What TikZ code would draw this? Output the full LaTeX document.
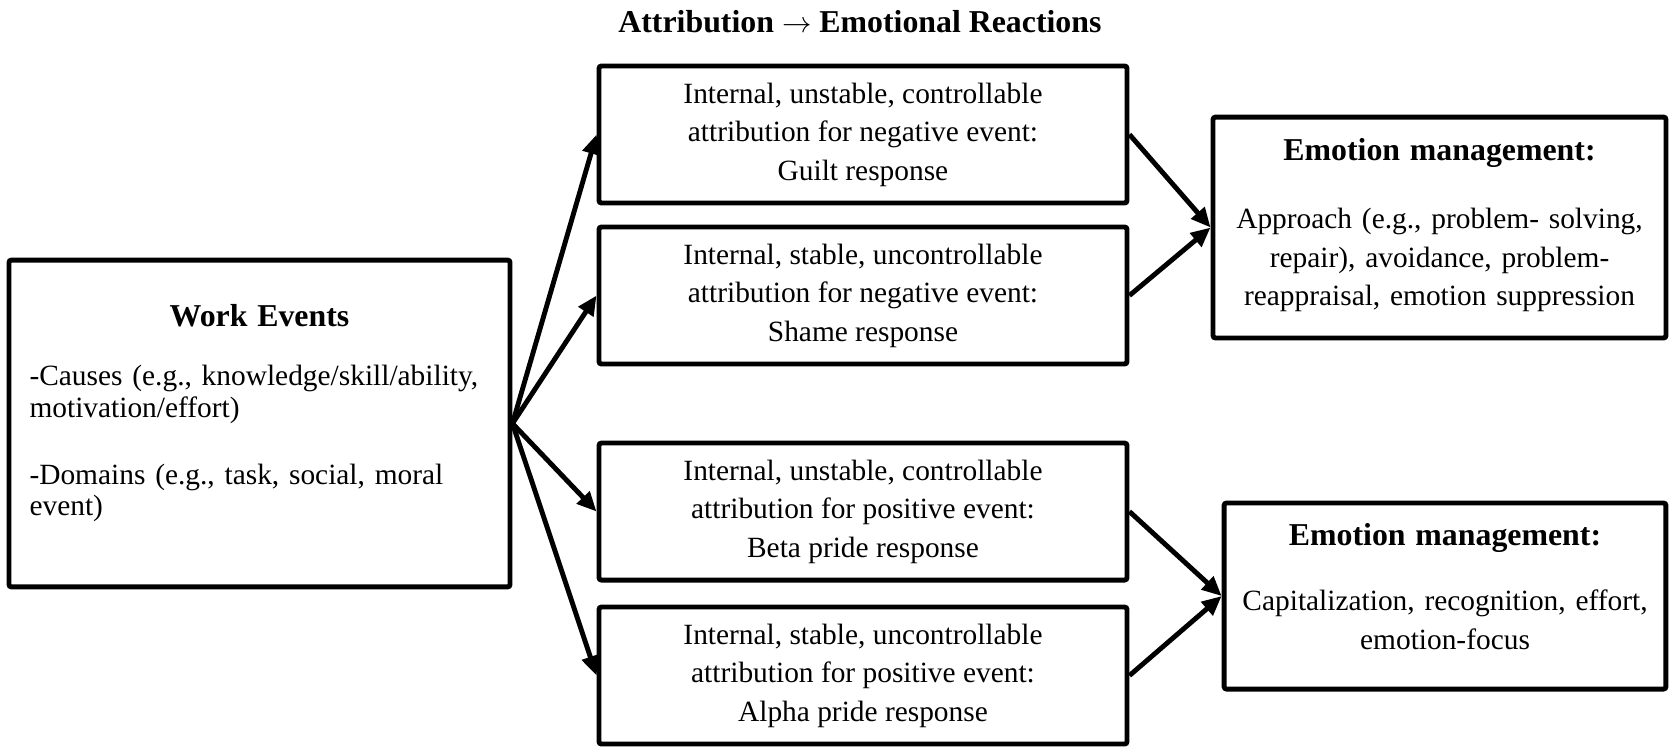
\documentclass[tikz,border=0pt]{standalone}
\usepackage{fontspec}
\setmainfont{Liberation Serif}
\usetikzlibrary{arrows.meta,positioning}
\tikzset{
  attrbox/.style={rectangle, rounded corners=1pt, draw=black, line width=2pt,
    align=center, minimum width=7.577cm, minimum height=1.966cm, font=\fontsize{12}{15.7}\selectfont},
  eventbox/.style={rectangle, rounded corners=1pt, draw=black, line width=2pt,
    align=left, text width=6.6cm, minimum width=7.19cm, minimum height=4.69cm, font=\fontsize{12}{13}\selectfont},
  mgmtbox/.style={rectangle, rounded corners=1pt, draw=black, line width=2pt,
    align=center, text width=6.1cm, font=\fontsize{12}{15.7}\selectfont},
  headfont/.style={font=\fontsize{13}{16}\selectfont\bfseries},
  arrow/.style={-{Triangle[length=8pt,width=7pt]}, line width=2pt, draw=black}
}

\begin{document}
\begin{tikzpicture}
  \useasboundingbox (0,0) rectangle (23.95,-10.79);
  \node[headfont] (title) at (12.34,-0.316) {Attribution $\rightarrow$ Emotional Reactions};
  % work events
  \node[eventbox] (events) at (3.724,-6.077) {%
    {\centering\fontsize{13}{16}\selectfont\bfseries Work Events\par}
    \vspace{11pt}
    -Causes (e.g., knowledge/skill/ability,\\ motivation/effort)\par
    \vspace{14.3pt}
    -Domains (e.g., task, social, moral\\ event)\par
    \vspace{8.3pt}\hrule height 0pt};
  % attributions
  \node[attrbox] (guilt) at (12.384,-1.930) {Internal, unstable, controllable\\ attribution for negative event:\\ Guilt response};
  \node[attrbox, below=0.274cm of guilt] (shame) {Internal, stable, uncontrollable\\ attribution for negative event:\\ Shame response};
  \node[attrbox, below=1.064cm of shame] (beta) {Internal, unstable, controllable\\ attribution for positive event:\\ Beta pride response};
  \node[attrbox, below=0.317cm of beta] (alpha) {Internal, stable, uncontrollable\\ attribution for positive event:\\ Alpha pride response};
  % emotion management
  \node[mgmtbox, minimum width=6.50cm, minimum height=3.17cm] (mgmtneg) at (20.657,-3.265) {%
    {\fontsize{13}{15.7}\selectfont\bfseries Emotion management:\par}
    \vspace{12pt}
    Approach (e.g., problem- solving,\\ repair), avoidance, problem-\\ reappraisal, emotion suppression\par
    \vspace{1.8pt}\hrule height 0pt};
  \node[mgmtbox, minimum width=6.34cm, minimum height=2.67cm] (mgmtpos) at (20.736,-8.553) {%
    {\fontsize{13}{15.7}\selectfont\bfseries Emotion management:\par}
    \vspace{11pt}
    Capitalization, recognition, effort,\\ emotion-focus\par
    \vspace{7.8pt}\hrule height 0pt};
  \draw[arrow] (events.east) -- (guilt.west);
  \draw[arrow] (events.east) -- (shame.west);
  \draw[arrow] (events.east) -- (beta.west);
  \draw[arrow] (events.east) -- (alpha.west);
  \draw[arrow] (guilt.east) -- (mgmtneg.west);
  \draw[arrow] (shame.east) -- (mgmtneg.west);
  \draw[arrow] (beta.east) -- (mgmtpos.west);
  \draw[arrow] (alpha.east) -- (mgmtpos.west);
\end{tikzpicture}
\end{document}
